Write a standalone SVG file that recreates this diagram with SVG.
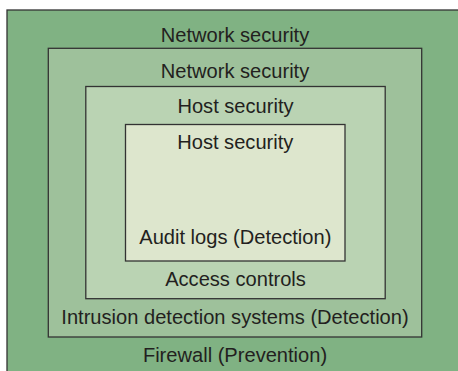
<svg xmlns="http://www.w3.org/2000/svg" width="458" height="371" viewBox="0 0 458 371">
  <style>
    .layer { stroke: #333333; stroke-width: 1.3; }
    .label { font-family: "Liberation Sans", Arial, sans-serif; font-size: 20.1px; fill: #231f20; text-anchor: middle; }
  </style>
  <rect width="458" height="371" fill="#ffffff"/>
  <!-- outermost layer: firewall -->
  <g id="firewall">
    <rect class="layer" x="7" y="10" width="460" height="380" fill="#80b283"/>
    <text class="label" x="235" y="41.5">Network security</text>
    <text class="label" x="235" y="362">Firewall (Prevention)</text>
  </g>
  <!-- intrusion detection layer -->
  <g id="ids">
    <rect class="layer" x="48.3" y="48.3" width="373.4" height="288.7" fill="#9ec19b"/>
    <text class="label" x="235" y="77.5">Network security</text>
    <text class="label" x="235" y="323.7">Intrusion detection systems (Detection)</text>
  </g>
  <!-- access control layer -->
  <g id="access">
    <rect class="layer" x="85.8" y="86.5" width="299.4" height="212.2" fill="#bad3b3"/>
    <text class="label" x="235.5" y="113.3">Host security</text>
    <text class="label" x="235.5" y="286">Access controls</text>
  </g>
  <!-- innermost layer: audit logs -->
  <g id="audit">
    <rect class="layer" x="125.5" y="124.5" width="219.5" height="136.5" fill="#dde6cd"/>
    <text class="label" x="235.3" y="149">Host security</text>
    <text class="label" x="235.3" y="243.7">Audit logs (Detection)</text>
  </g>
  <g id="connectors"/>
</svg>
